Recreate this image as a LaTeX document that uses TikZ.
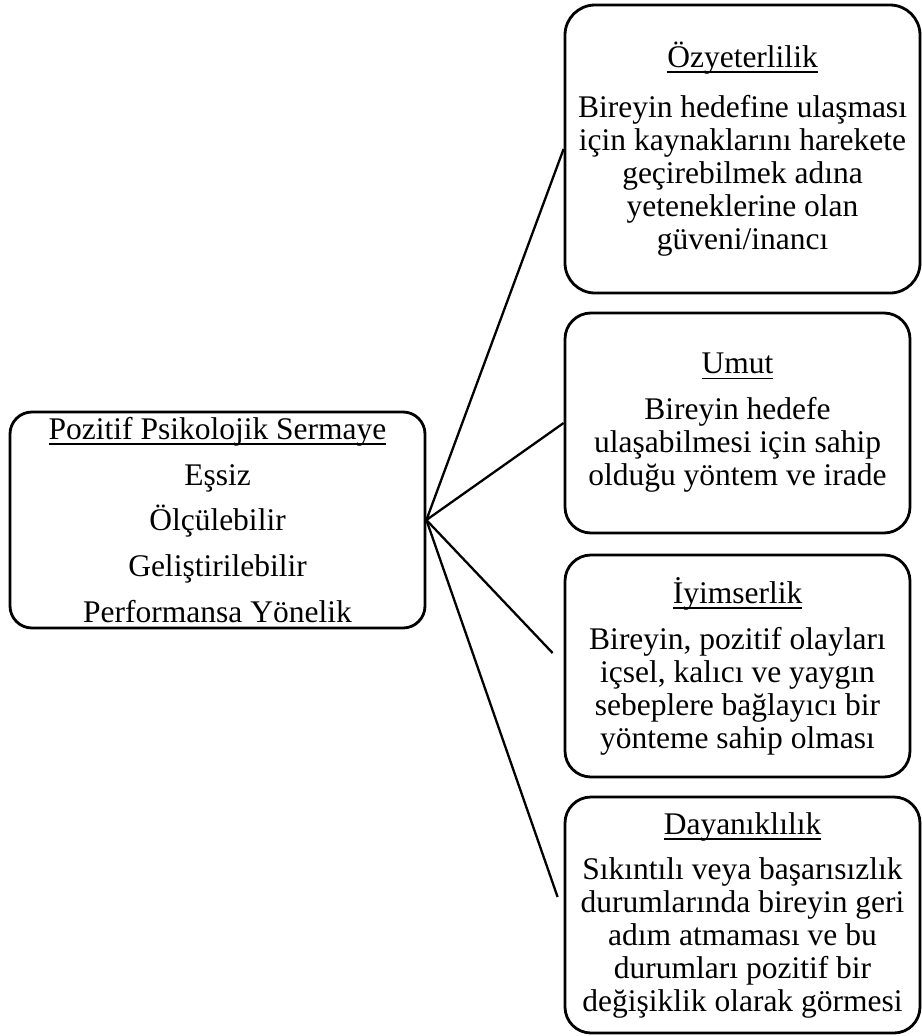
\documentclass[tikz,border=0pt]{standalone}
\usepackage{fontspec}
\setmainfont{Liberation Serif}

% underlined heading with a fixed rule position, crossing the descenders
\newcommand\boxtitle[1]{\begingroup\setbox0\hbox{#1}\rlap{\rule[-5.5pt]{\wd0}{1.8pt}}\box0\endgroup}

\tikzset{
  panel/.style={draw, line width=2.8pt, rounded corners=26pt, inner sep=0pt,
    align=center, font=\fontsize{31.5pt}{33pt}\selectfont},
  hubpanel/.style={panel, rounded corners=22pt, font=\fontsize{31.5pt}{45.7pt}\selectfont},
  link/.style={line width=2.3pt}
}

\begin{document}
\begin{tikzpicture}[x=1pt, y=-1pt]
  \useasboundingbox (0,0) rectangle (921,1036);

  % central concept
  \node[hubpanel, minimum width=415pt, minimum height=216pt] (L) at (217.5,520)
    {\boxtitle{Pozitif Psikolojik Sermaye}\\
     Eşsiz\\ Ölçülebilir\\ Geliştirilebilir\\ Performansa Yönelik};

  % the four components
  \node[panel, rounded corners=30pt, minimum width=355pt, minimum height=288pt] (T) at (742.5,149)
    {\boxtitle{Özyeterlilik}\\[17pt]
     Bireyin hedefine ulaşması\\ için kaynaklarını harekete\\
     geçirebilmek adına\\ yeteneklerine olan\\ güveni/inancı};

  \node[panel, minimum width=345pt, minimum height=220pt] (U) at (737.5,423)
    {\boxtitle{Umut}\\[13pt]
     Bireyin hedefe\\ ulaşabilmesi için sahip\\ olduğu yöntem ve irade};

  \node[panel, minimum width=345pt, minimum height=222pt] (I) at (737.5,666)
    {\boxtitle{İyimserlik}\\[13pt]
     Bireyin, pozitif olayları\\ içsel, kalıcı ve yaygın\\
     sebeplere bağlayıcı bir\\ yönteme sahip olması};

  \node[panel, minimum width=355pt, minimum height=236pt] (D) at (742.5,915)
    {\boxtitle{Dayanıklılık}\\[12pt]
     Sıkıntılı veya başarısızlık\\ durumlarında bireyin geri\\
     adım atmaması ve bu\\ durumları pozitif bir\\ değişiklik olarak görmesi};

  % free ends of the two lower links stop just short of their boxes
  \coordinate (Iend) at ([xshift=-11pt, yshift=13pt]I.west);
  \coordinate (Dend) at ([xshift=-6pt, yshift=18pt]D.west);

  \draw[link] (L.east) -- (T.west);
  \draw[link] (L.east) -- (U.west);
  \draw[link] (L.east) -- (Iend);
  \draw[link] (L.east) -- (Dend);
\end{tikzpicture}
\end{document}
